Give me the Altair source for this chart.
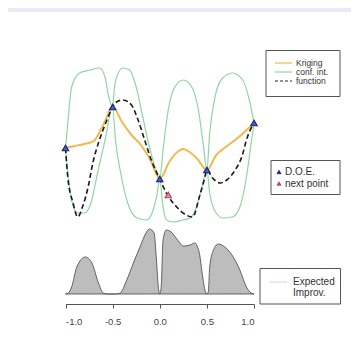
import altair as alt
import pandas as pd

# ---------------- data ----------------
conf_up_x = [-1, -0.97, -0.935, -0.85, -0.74, -0.64, -0.58, -0.55, -0.5, -0.48, -0.44, -0.39, -0.32,
             -0.25, -0.18, -0.11, -0.05, 0, 0.035, 0.09, 0.16, 0.25, 0.34, 0.41, 0.46, 0.5, 0.53,
             0.58, 0.65, 0.77, 0.88, 0.95, 1.0]
conf_up_y = [1.7, 4.8, 7.8, 9.2, 9.5, 9.7, 8.8, 7.2, 5.8, 7.8, 9.2, 9.7, 9.5, 7.8, 4.8, 1.8, -0.2,
             -1.4, 1.5, 5.5, 7.8, 8.5, 7.8, 5.5, 2.2, -0.5, 3.2, 6.5, 8.5, 9.2, 8.5, 6.5, 4.2]

conf_lo_x = [-1, -0.97, -0.935, -0.87, -0.8, -0.73, -0.66, -0.58, -0.5, -0.47, -0.41, -0.34, -0.24,
             -0.14, -0.07, -0.03, 0, 0.035, 0.07, 0.14, 0.25, 0.32, 0.39, 0.44, 0.5, 0.53, 0.58,
             0.67, 0.77, 0.85, 0.92, 0.97, 1.0]
conf_lo_y = [1.7, -1.2, -3.5, -4.8, -4.8, -3.8, -0.8, 2.5, 5.8, 2.5, -1.0, -3.8, -5.3, -5.5, -4.5,
             -3.0, -1.4, -4.2, -5.5, -5.7, -5.5, -5.3, -4.2, -2.5, -0.5, -2.8, -4.5, -5.3, -5.2,
             -4.2, -1.2, 2.2, 4.2]

krig_x = [-1, -0.9, -0.8, -0.7, -0.6, -0.5, -0.4, -0.3, -0.2, -0.1, 0, 0.1, 0.2, 0.25, 0.3, 0.4,
          0.5, 0.6, 0.7, 0.8, 0.9, 1]
krig_y = [1.7, 1.9, 2.1, 2.4, 4.0, 5.8, 4.3, 3.0, 2.0, 0.5, -1.4, 0.3, 1.4, 1.6, 1.4, 0.6, -0.5,
          1.0, 1.8, 2.5, 3.3, 4.2]

func_x = [-1, -0.976, -0.92, -0.87, -0.82, -0.76, -0.71, -0.64, -0.56, -0.5, -0.46, -0.39, -0.3,
          -0.23, -0.16, -0.09, 0, 0.07, 0.18, 0.28, 0.35, 0.42, 0.48, 0.5, 0.56, 0.64, 0.71, 0.8,
          0.87, 0.93, 1.0]
func_y = [1.7, -1.2, -3.8, -5.2, -4.2, -2.2, 0.2, 2.5, 4.5, 5.8, 6.3, 6.5, 6.0, 4.5, 2.5, 0.5,
          -1.4, -2.8, -4.2, -5.0, -5.2, -3.2, -1.2, -0.5, -1.3, -1.8, -1.5, -0.5, 0.8, 2.8, 4.2]

doe_x = [-1, -0.5, 0, 0.5, 1]
doe_y = [1.7, 5.8, -1.4, -0.5, 4.2]

next_x = [0.09]
next_y = [-3.0]

ei_x = [-1, -0.97, -0.935, -0.88, -0.79, -0.72, -0.65, -0.6, -0.56, -0.46, -0.42, -0.35, -0.28,
        -0.21, -0.14, -0.11, -0.06, -0.035, -0.015, 0, 0.015, 0.035, 0.07, 0.12, 0.19, 0.25,
        0.32, 0.37, 0.42, 0.45, 0.48, 0.5, 0.515, 0.53, 0.57, 0.62, 0.69, 0.78, 0.85, 0.92,
        0.97, 1.0]
ei_y = [0, 0.001, 0.007, 0.027, 0.037, 0.031, 0.011, 0.001, 0, 0, 0.001, 0.014, 0.031, 0.047,
        0.062, 0.065, 0.061, 0.034, 0.007, 0, 0.007, 0.054, 0.064, 0.062, 0.054, 0.048, 0.049,
        0.051, 0.041, 0.021, 0.004, 0, 0.002, 0.027, 0.044, 0.050, 0.047, 0.037, 0.024, 0.007,
        0.001, 0]

tick_values = [-1, -0.5, 0, 0.5, 1]

# ---------------- chart ----------------
W, H = 343, 341
FONT = "Liberation Sans"
GREEN = "#8fd6a0"
ORANGE = "#f2b84b"

xscale = alt.Scale(domain=[-1, 1], range=[57.5, 246], nice=False, zero=False)
ytop = alt.Scale(domain=[-7, 11], range=[227, 47], nice=False, zero=False)
yei = alt.Scale(domain=[0, 0.07], range=[286, 216], nice=False, zero=False)

xaxis = alt.Axis(values=tick_values, offset=-45, title=None, grid=False, zindex=1,
                 labelExpr="replace(format(datum.value, '.1f'), '\u2212', '-')",
                 domainColor="#555", tickColor="#555", tickSize=4, domainWidth=1,
                 labelFont=FONT, labelFontSize=9.5, labelColor="#444", labelPadding=8)


def X():
    return alt.X("x:Q", scale=xscale, axis=xaxis)


one = pd.DataFrame({"a": [0]})

strip = alt.Chart(one).mark_rect(color="#ebe7f7").encode(
    x=alt.value(0), x2=alt.value(W), y=alt.value(0), y2=alt.value(4))

up = alt.Chart(pd.DataFrame({"x": conf_up_x, "y": conf_up_y})).mark_line(
    color=GREEN, strokeWidth=1.2, interpolate="monotone").encode(
    x=X(), y=alt.Y("y:Q", scale=ytop, axis=None))
lo = alt.Chart(pd.DataFrame({"x": conf_lo_x, "y": conf_lo_y})).mark_line(
    color=GREEN, strokeWidth=1.2, interpolate="monotone").encode(
    x=X(), y=alt.Y("y:Q", scale=ytop, axis=None))
krig = alt.Chart(pd.DataFrame({"x": krig_x, "y": krig_y})).mark_line(
    color=ORANGE, strokeWidth=2, interpolate="monotone").encode(
    x=X(), y=alt.Y("y:Q", scale=ytop, axis=None))
func = alt.Chart(pd.DataFrame({"x": func_x, "y": func_y})).mark_line(
    color="#1a1a1a", strokeWidth=1.6, strokeDash=[5, 3], interpolate="monotone").encode(
    x=X(), y=alt.Y("y:Q", scale=ytop, axis=None))
doe = alt.Chart(pd.DataFrame({"x": doe_x, "y": doe_y})).mark_point(
    shape="triangle-up", size=40, filled=True, fill="#5060c0", stroke="#1a237e",
    strokeWidth=1.2, opacity=1).encode(
    x=X(), y=alt.Y("y:Q", scale=ytop, axis=None))
nxt = alt.Chart(pd.DataFrame({"x": next_x, "y": next_y})).mark_point(
    shape="triangle-up", size=40, filled=True, fill="#e090a0", stroke="#c04060",
    strokeWidth=1.2, opacity=1).encode(
    x=X(), y=alt.Y("y:Q", scale=ytop, axis=None))
ei = alt.Chart(pd.DataFrame({"x": ei_x, "y": ei_y})).mark_area(
    color="#bdbdbd", stroke="#444", strokeWidth=0.8, interpolate="monotone", opacity=1).encode(
    x=X(), y=alt.Y("y:Q", scale=yei, axis=None))

layers = [strip, up, lo, krig, func, ei, doe, nxt]


def box(x1, y1, x2, y2):
    return alt.Chart(one).mark_rect(fill="white", stroke="#555", strokeWidth=1).encode(
        x=alt.value(x1), x2=alt.value(x2), y=alt.value(y1), y2=alt.value(y2))


def txt(x, y, s, size):
    return alt.Chart(one).mark_text(align="left", baseline="middle", font=FONT,
                                    fontSize=size, color="#333").encode(
        x=alt.value(x), y=alt.value(y), text=alt.value(s))


def seg(x1, x2, y, color, width=1.2, dash=None):
    kw = {"color": color, "strokeWidth": width}
    if dash:
        kw["strokeDash"] = dash
    return alt.Chart(one).mark_rule(**kw).encode(
        x=alt.value(x1), x2=alt.value(x2), y=alt.value(y))


def tri(x, y, fill, stroke):
    return alt.Chart(one).mark_point(shape="triangle-up", size=16, filled=True, fill=fill,
                                     stroke=stroke, strokeWidth=0.8, opacity=1).encode(
        x=alt.value(x), y=alt.value(y))


legend = [
    box(258, 42.5, 332, 88.5),
    seg(267, 284, 55, ORANGE),
    seg(267, 284, 64, GREEN),
    seg(267, 284, 73, "#222", 1, [3, 2]),
    txt(288, 55, "Kriging", 8.5), txt(288, 64, "conf. int.", 8.5),
    txt(288, 73, "function", 8.5),
    box(263, 152.5, 332, 186.5),
    tri(271, 164, "#1a237e", "#1a237e"), tri(271, 175.5, "#c04060", "#c04060"),
    txt(277, 164, "D.O.E.", 10), txt(277, 175.5, "next point", 10),
    box(252, 260.5, 332.5, 296),
    seg(262, 279, 274, "#c8d8c8", 1),
    txt(285, 274, "Expected", 10), txt(285, 285, "Improv.", 10),
]

chart = alt.layer(*layers, *legend).resolve_scale(y="independent").properties(
    width=W, height=H, autosize="none", padding=0, background="white"
).configure_view(stroke=None)

chart.save("out.html", embed_options={"renderer": "svg", "actions": False})
